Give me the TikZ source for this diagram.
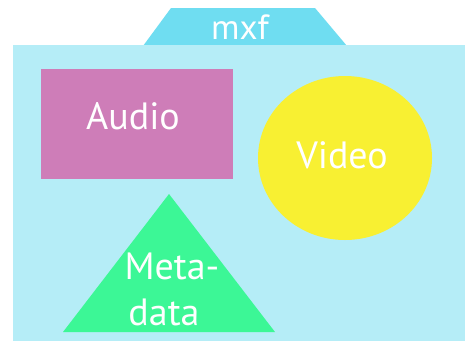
\documentclass[tikz,border=0pt]{standalone}
\usepackage{fontspec}
\setmainfont{PT Sans}
\usetikzlibrary{shapes.geometric}
\definecolor{boxblue}{HTML}{B5EDF7}
\definecolor{tabblue}{HTML}{6FDDF1}
\definecolor{audiopink}{HTML}{CE7DB8}
\definecolor{videoyellow}{HTML}{F8F032}
\definecolor{metagreen}{HTML}{3CF796}
\tikzset{
  lbl/.style={text=white, font=\fontsize{38}{42}\selectfont, inner sep=0pt}
}
\begin{document}
\begin{tikzpicture}[x=1pt, y=-1pt]
  \useasboundingbox[fill=white] (0,0) rectangle (465,341);
  % container tab and body
  \fill[tabblue] (143,46) -- (171,8) -- (315,8) -- (347,46) -- cycle;
  \node[lbl, font=\fontsize{35}{38}\selectfont] (mxf) at (240,27) {mxf};
  \fill[boxblue] (13,45) rectangle (465,341);
  % audio block
  \fill[audiopink] (41,69) rectangle (233,179);
  \node[lbl] (audio) at (133,116) {Audio};
  % video block
  \fill[videoyellow] (345,158) ellipse [x radius=87, y radius=82];
  \node[lbl] (video) at (342,155) {Video};
  % metadata block
  \fill[metagreen] (169,194) -- (275,332) -- (63,332) -- cycle;
  \node[lbl] (meta) at (172,266) {Meta-};
  \node[lbl] (data) at (164,312) {data};
\end{tikzpicture}
\end{document}
